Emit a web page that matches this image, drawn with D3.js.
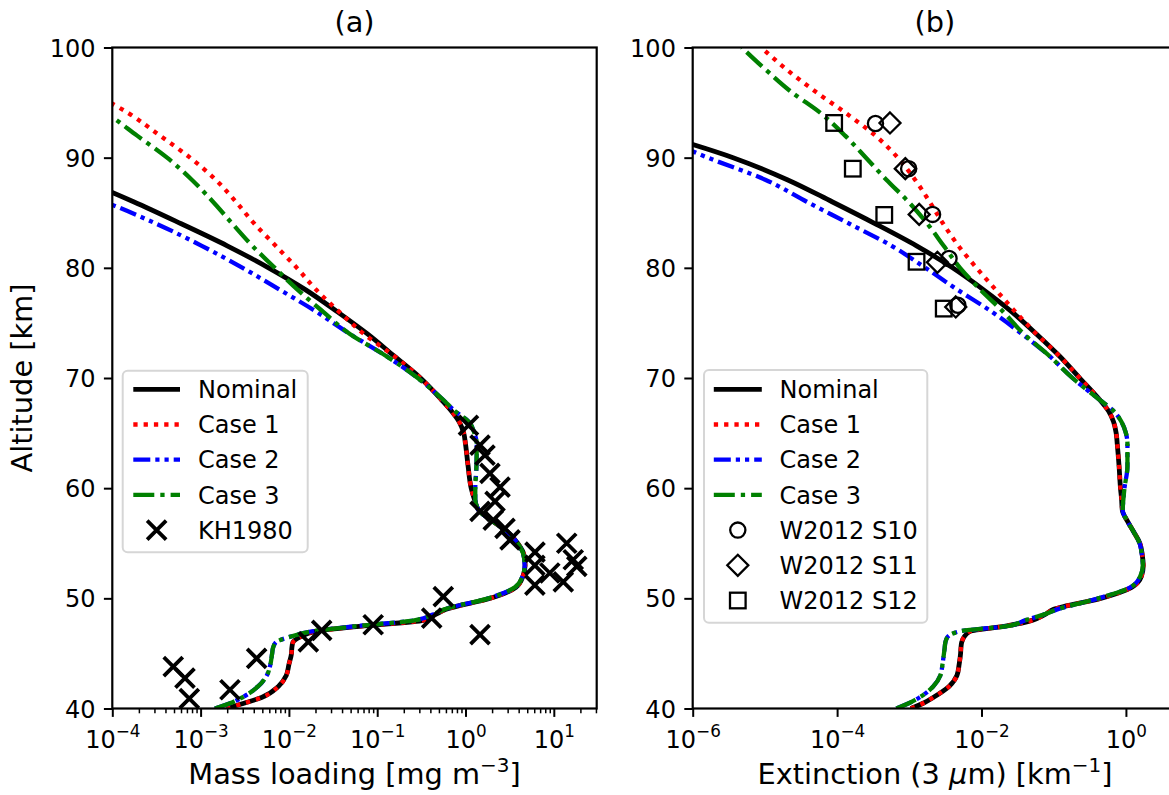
<!DOCTYPE html>
<html><head><meta charset="utf-8">
<script src="https://cdn.jsdelivr.net/npm/d3@7"></script>
<style>
body{margin:0;background:#fff}
svg{display:block}
text{font-family:"DejaVu Sans",sans-serif;fill:#000}
</style>
</head><body>
<svg id="c" width="1169" height="795"></svg>
<script>
// ---------------- DATA ----------------
const altitudes = [40,40.5,41,42,43,44,45,45.5,46,46.5,47,47.5,48,48.5,49,50,51,52,53,54,55,56,57,58,59,60,62,64,65,66,67,68,70,72,74,76,78,80,82,84,86,88,90,92,94,96,98,100];

// Panel (a): mass loading [mg m^-3]
const massNominal = [1.95e-3,3.16e-3,4.90e-3,7.59e-3,9.33e-3,1.00e-2,1.07e-2,1.08e-2,1.11e-2,1.35e-2,2.00e-2,7.08e-2,0.331,0.447,0.603,1.91,3.72,4.47,4.73,4.57,3.89,3.02,2.04,1.41,1.26,1.16,1.07,1.00,0.955,0.851,0.692,0.537,0.309,0.155,7.76e-2,3.55e-2,1.55e-2,5.89e-3,2.00e-3,6.03e-4,1.74e-4,4.47e-5,1.0e-5,2.0e-6,null,null,null,null];
const massCase1 = [1.95e-3,3.16e-3,4.90e-3,7.59e-3,9.33e-3,1.00e-2,1.07e-2,1.08e-2,1.11e-2,1.35e-2,2.00e-2,7.08e-2,0.331,0.447,0.603,1.91,3.72,4.47,4.73,4.57,3.89,3.02,2.04,1.41,1.26,1.16,1.07,1.00,0.955,0.851,0.692,0.537,0.309,0.155,7.08e-2,3.72e-2,2.04e-2,1.23e-2,7.08e-3,4.07e-3,2.51e-3,1.48e-3,7.59e-4,3.47e-4,1.55e-4,5.62e-5,2.0e-5,6.3e-6];
const massCase2 = [1.45e-3,2.19e-3,2.95e-3,4.47e-3,5.62e-3,6.17e-3,6.46e-3,6.61e-3,7.08e-3,1.02e-2,1.82e-2,6.31e-2,0.263,0.417,0.575,1.82,3.63,4.42,4.68,4.52,3.89,3.02,2.04,1.41,1.29,1.29,1.33,1.34,1.26,1.10,0.759,0.562,0.288,0.126,4.90e-2,2.06e-2,7.94e-3,2.99e-3,1.03e-3,3.16e-4,8.13e-5,1.58e-5,2.5e-6,null,null,null,null,null];
const massCase3 = [1.45e-3,2.19e-3,2.95e-3,4.47e-3,5.62e-3,6.17e-3,6.46e-3,6.61e-3,7.08e-3,1.02e-2,1.82e-2,6.31e-2,0.263,0.417,0.575,1.82,3.63,4.42,4.68,4.52,3.89,3.02,2.04,1.41,1.29,1.29,1.33,1.34,1.26,1.10,0.759,0.562,0.288,0.126,4.90e-2,2.45e-2,1.26e-2,6.92e-3,3.85e-3,2.29e-3,1.38e-3,7.94e-4,4.17e-4,1.91e-4,8.71e-5,3.16e-5,1.0e-5,3.16e-6];

// KH1980 measurements
const khMass = [1.08,1.46,1.66,1.89,2.46,2.16,1.46,2.06,2.80,3.19,6.12,14.0,6.1,16.6,18.2,9.0,12.8,6.1,0.56,0.414,1.46,0.090,0.0235,0.0166,0.00431,0.00215,0.00049,0.000665,0.000745];
const khAlt = [65.7,63.9,63.0,61.35,60.1,58.8,57.9,57.1,56.35,55.3,54.2,55.0,53.0,53.5,52.9,52.3,51.5,51.2,50.15,48.2,46.7,47.6,47.1,46.05,44.55,41.7,43.8,42.75,40.9];

// Panel (b): extinction at 3 um [km^-1]
const extNominal = [1.05e-3,1.58e-3,2.14e-3,3.55e-3,4.57e-3,4.90e-3,5.13e-3,5.19e-3,5.31e-3,5.75e-3,6.92e-3,2.24e-2,5.01e-2,7.41e-2,0.100,0.447,1.20,1.64,1.74,1.68,1.56,1.29,1.05,0.891,0.871,0.841,0.804,0.759,0.733,0.676,0.575,0.437,0.229,0.120,5.75e-2,2.63e-2,1.07e-2,3.98e-3,1.26e-3,3.39e-4,8.51e-5,2.04e-5,3.63e-6,3.98e-7,null,null,null,null];
const extCase1 = [1.05e-3,1.58e-3,2.14e-3,3.55e-3,4.57e-3,4.90e-3,5.13e-3,5.19e-3,5.31e-3,5.75e-3,6.92e-3,2.24e-2,5.01e-2,7.41e-2,0.100,0.447,1.20,1.64,1.74,1.68,1.56,1.29,1.05,0.891,0.871,0.841,0.804,0.759,0.733,0.676,0.575,0.437,0.229,0.120,5.75e-2,2.95e-2,1.58e-2,8.51e-3,4.79e-3,2.95e-3,1.91e-3,1.20e-3,6.92e-4,3.39e-4,1.35e-4,5.01e-5,2.0e-5,8.91e-6];
const extCase2 = [6.61e-4,1.00e-3,1.38e-3,2.14e-3,2.69e-3,2.88e-3,3.02e-3,3.09e-3,3.16e-3,3.39e-3,5.01e-3,2.40e-2,3.98e-2,7.08e-2,0.112,0.417,1.15,1.58,1.72,1.66,1.55,1.29,1.05,0.902,0.923,0.955,1.05,1.05,1.00,0.871,0.676,0.437,0.182,8.71e-2,3.63e-2,1.40e-2,4.68e-3,1.67e-3,5.68e-4,1.48e-4,3.80e-5,1.01e-5,1.62e-6,3.16e-7,null,null,null,null];
const extCase3 = [6.61e-4,1.00e-3,1.38e-3,2.14e-3,2.69e-3,2.88e-3,3.02e-3,3.09e-3,3.16e-3,3.39e-3,5.01e-3,2.40e-2,3.98e-2,7.08e-2,0.112,0.417,1.15,1.58,1.72,1.66,1.55,1.29,1.05,0.902,0.923,0.955,1.05,1.05,1.00,0.871,0.676,0.437,0.182,8.71e-2,3.85e-2,2.00e-2,9.68e-3,5.04e-3,2.99e-3,1.78e-3,9.70e-4,4.81e-4,2.51e-4,1.29e-4,6.03e-5,2.29e-5,1.02e-5,4.79e-6];

// W2012 measurements
const s10Ext = [3.4e-4,9.8e-4,2.1e-3,3.55e-3,4.7e-3];
const s10Alt = [93.1,89.0,84.85,80.85,76.6];
const s11Ext = [5.4e-4,8.8e-4,1.37e-3,2.45e-3,4.4e-3];
const s11Alt = [93.15,89.0,84.85,80.5,76.45];
const s12Ext = [9.1e-5,1.65e-4,4.5e-4,1.26e-3,3.0e-3];
const s12Alt = [93.15,89.0,84.8,80.55,76.3];

// Tick values
const yTicks = [40,50,60,70,80,90,100];
const xTicksA = [1e-4,1e-3,1e-2,1e-1,1,10];
const xTicksB = [1e-6,1e-4,1e-2,1];
const seriesNames = ["Nominal","Case 1","Case 2","Case 3"];

// ---------------- STYLE / LAYOUT ----------------
const svg = d3.select("#c");
const TOP = 47.5, BOT = 708.5;
const y = d3.scaleLinear().domain([40,100]).range([BOT, TOP]);
const lineStyles = [
  {color:"#000000", width:4.8, dash:null},
  {color:"#ff0000", width:4.3, dash:"4.3,6"},
  {color:"#0000ff", width:4.3, dash:"17,5,4.2,5,4.2,5"},
  {color:"#008000", width:4.3, dash:"21,6,4.3,6"}
];

const panels = [
  {id:"a", x:d3.scaleLog().domain([1e-4,30.6]).range([112.3,596.7]), ticks:xTicksA, minor:true,
   title:"(a)", series:[massNominal,massCase1,massCase2,massCase3],
   legend:{x0:122.7,x1:307.7,y0:370.7,y1:552.3,hx0:133.3,hx1:180,tx:198,row0:389.3}},
  {id:"b", x:d3.scaleLog().domain([1e-6,5.1]).range([692.7,1177]), ticks:xTicksB, minor:false,
   title:"(b)", series:[extNominal,extCase1,extCase2,extCase3],
   legend:{x0:704,x1:927.3,y0:370,y1:622.7,hx0:713.8,hx1:761.8,tx:779.5,row0:389.3}}
];

function supLabel(sel, base, expText, supSize, shift){
  sel.text(null);
  sel.append("tspan").text(base);
  sel.append("tspan").attr("font-size", supSize).attr("dy", -shift).text(expText);
}

function drawMarker(g, type){
  const sz = 15.6;
  if(type==="x"){
    const s = 9.5;
    g.append("path").attr("d",`M${-s},${-s}L${s},${s}M${-s},${s}L${s},${-s}`)
      .attr("stroke","#000").attr("stroke-width",3.8).attr("fill","none");
  } else if(type==="o"){
    g.append("circle").attr("r",7.6).attr("stroke","#000").attr("stroke-width",2.3).attr("fill","none");
  } else if(type==="D"){
    g.append("path").attr("d","M0,-10.5L10.5,0L0,10.5L-10.5,0Z").attr("stroke","#000").attr("stroke-width",2.3).attr("fill","none");
  } else if(type==="s"){
    g.append("rect").attr("x",-sz/2).attr("y",-sz/2).attr("width",sz).attr("height",sz)
      .attr("stroke","#000").attr("stroke-width",2.3).attr("fill","none");
  }
}

panels.forEach(p => {
  const x = p.x;
  const [xl, xr] = x.range();
  const g = svg.append("g");
  const clipId = "clip-" + p.id;
  svg.append("clipPath").attr("id", clipId).append("rect")
     .attr("x", xl).attr("y", TOP).attr("width", xr - xl).attr("height", BOT - TOP);

  // data lines
  const plot = g.append("g").attr("clip-path", `url(#${clipId})`);
  p.series.forEach((vals, i) => {
    const pts = altitudes.map((a, k) => ({a, v: vals[k]}));
    const line = d3.line().defined(d => d.v != null)
      .x(d => x(d.v)).y(d => y(d.a)).curve(d3.curveMonotoneY);
    const st = lineStyles[i];
    plot.append("path").datum(pts).attr("d", line).attr("fill","none")
      .attr("stroke", st.color).attr("stroke-width", st.width)
      .attr("stroke-dasharray", st.dash).attr("stroke-linejoin","round");
  });

  // markers
  if(p.id === "a"){
    khMass.forEach((m, k) => {
      drawMarker(plot.append("g").attr("transform", `translate(${x(m)},${y(khAlt[k])})`), "x");
    });
  } else {
    [[s10Ext,s10Alt,"o"],[s11Ext,s11Alt,"D"],[s12Ext,s12Alt,"s"]].forEach(([ev, av, t]) => {
      ev.forEach((e, k) => {
        drawMarker(plot.append("g").attr("transform", `translate(${x(e)},${y(av[k])})`), t);
      });
    });
  }

  // axes
  const ax = g.append("g").attr("transform", `translate(0,${BOT})`)
    .call(d3.axisBottom(x).tickValues(p.ticks).tickSize(8.4).tickPadding(8.4).tickFormat(d => ""));
  ax.select(".domain").remove();
  ax.selectAll(".tick line").attr("stroke","#000").attr("stroke-width",2);
  ax.selectAll(".tick text").each(function(d){
    const e = Math.round(Math.log10(d));
    const t = d3.select(this).attr("font-size", 24).attr("y", 39).attr("dy", null);
    supLabel(t, "10", (e < 0 ? "\u2212" : "") + Math.abs(e), 16.8, 10.5);
  });
  if(p.minor){
    const minors = [];
    const [d0, d1] = x.domain();
    for(let e = Math.floor(Math.log10(d0)); e <= Math.ceil(Math.log10(d1)); e++){
      for(let m = 2; m <= 9; m++){ const v = m * Math.pow(10, e); if(v >= d0 && v <= d1) minors.push(v); }
    }
    const mx = g.append("g").attr("transform", `translate(0,${BOT})`)
      .call(d3.axisBottom(x).tickValues(minors).tickSize(4.8).tickFormat(""));
    mx.select(".domain").remove();
    mx.selectAll(".tick line").attr("stroke","#000").attr("stroke-width",1.5);
  }
  const ay = g.append("g").attr("transform", `translate(${xl},0)`)
    .call(d3.axisLeft(y).tickValues(yTicks).tickSize(8.4).tickPadding(8.4));
  ay.select(".domain").remove();
  ay.selectAll(".tick line").attr("stroke","#000").attr("stroke-width",2);
  ay.selectAll(".tick text").attr("font-size",24).attr("font-family","DejaVu Sans").attr("dy","0.36em");

  // frame
  g.append("rect").attr("x", xl).attr("y", TOP).attr("width", xr - xl).attr("height", BOT - TOP)
    .attr("fill","none").attr("stroke","#000").attr("stroke-width",2.2);

  // title
  g.append("text").attr("x", (xl + xr) / 2).attr("y", 32)
    .attr("text-anchor","middle").attr("font-size", 28.8).text(p.title);

  // legend
  const L = p.legend;
  const lg = g.append("g");
  lg.append("rect").attr("x", L.x0).attr("y", L.y0).attr("width", L.x1 - L.x0).attr("height", L.y1 - L.y0)
    .attr("rx", 5).attr("fill","#fff").attr("fill-opacity",0.8).attr("stroke","#d6d6d6").attr("stroke-width",2);
  const rowH = 35.2;
  const entries = seriesNames.map((n, i) => ({name:n, line:i}));
  if(p.id === "a") entries.push({name:"KH1980", marker:"x"});
  else { entries.push({name:"W2012 S10", marker:"o"}); entries.push({name:"W2012 S11", marker:"D"}); entries.push({name:"W2012 S12", marker:"s"}); }
  entries.forEach((en, i) => {
    const ry = L.row0 + i * rowH;
    if(en.line !== undefined){
      const st = lineStyles[en.line];
      lg.append("line").attr("x1", L.hx0).attr("x2", L.hx1).attr("y1", ry).attr("y2", ry)
        .attr("stroke", st.color).attr("stroke-width", st.width).attr("stroke-dasharray", st.dash);
    } else {
      drawMarker(lg.append("g").attr("transform", `translate(${(L.hx0 + L.hx1) / 2},${ry})`), en.marker);
    }
    lg.append("text").attr("x", L.tx).attr("y", ry).attr("dy","0.36em").attr("font-size",24).text(en.name);
  });
});

// axis labels
svg.append("text").attr("transform","translate(32,378) rotate(-90)").attr("text-anchor","middle")
  .attr("font-size",28.8).text("Altitude [km]");

const xa = svg.append("text").attr("x",354.5).attr("y",784).attr("text-anchor","middle").attr("font-size",28.8);
xa.append("tspan").text("Mass loading [mg m");
xa.append("tspan").attr("font-size",20).attr("dy",-12).text("\u22123");
xa.append("tspan").attr("dy",12).text("]");

const xb = svg.append("text").attr("x",935).attr("y",784).attr("text-anchor","middle").attr("font-size",28.8);
xb.append("tspan").text("Extinction (3 ");
xb.append("tspan").attr("font-style","italic").text("\u03bc");
xb.append("tspan").text("m) [km");
xb.append("tspan").attr("font-size",20).attr("dy",-12).text("\u22121");
xb.append("tspan").attr("dy",12).text("]");
</script>
</body></html>
